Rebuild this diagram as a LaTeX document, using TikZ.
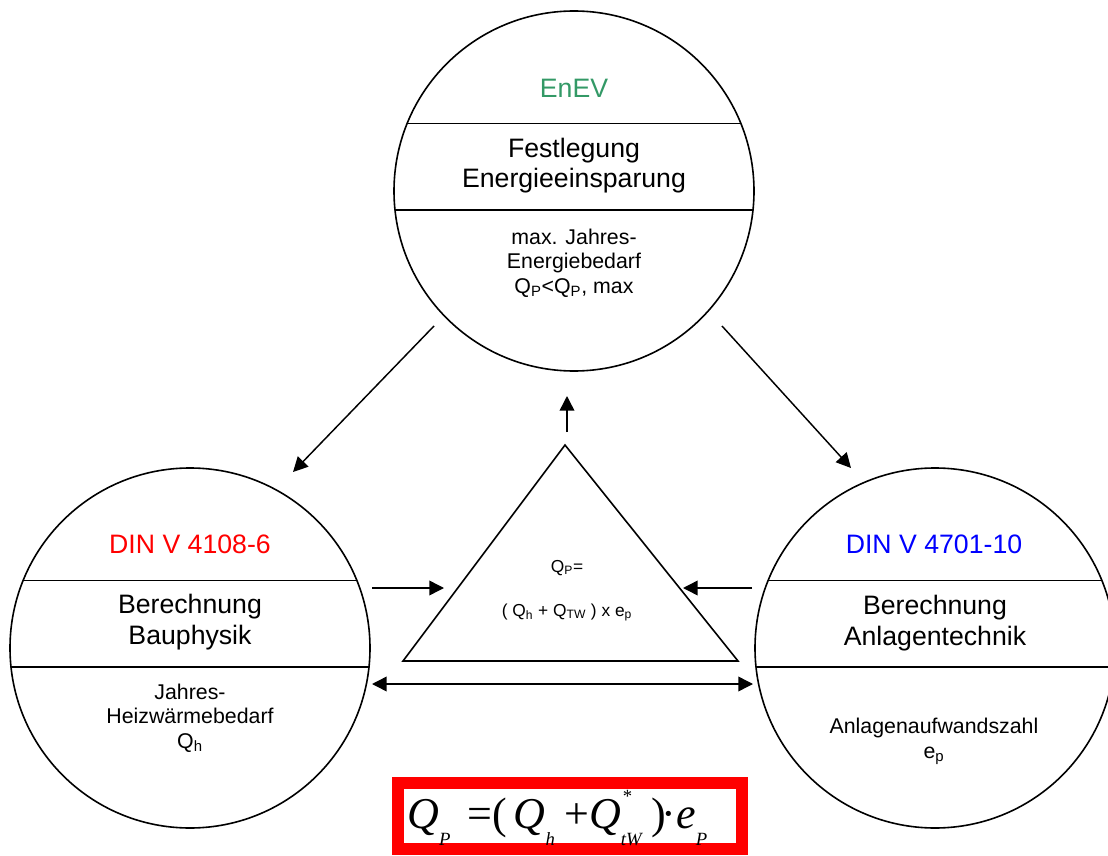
\documentclass[tikz,border=0pt]{standalone}
\usepackage{fontspec}
\setmainfont{Liberation Sans}
\newfontfamily\tnr{Liberation Serif}
\usetikzlibrary{arrows.meta}
\definecolor{enevgruen}{RGB}{51,153,102}
\tikzset{
  kreis/.style={draw, circle, line width=1.2pt, minimum size=270pt, inner sep=0pt, outer sep=0pt},
  linie/.style={line width=1.2pt},
  pfeil/.style={-{Triangle[length=11pt,width=11pt]}, line width=1.1pt},
  doppelpfeil/.style={{Triangle[length=11pt,width=11pt]}-{Triangle[length=11pt,width=11pt]}, line width=1.1pt},
  titel/.style={font=\fontsize{20}{23}\selectfont, anchor=base},
  gross/.style={font=\fontsize{20}{23}\selectfont, align=center, anchor=base},
  klein/.style={font=\fontsize{16}{18.3}\selectfont, align=center, anchor=base},
  dreitext/.style={font=\fontsize{13}{15}\selectfont, anchor=base},
}
\newcommand{\tsub}[1]{\textsubscript{#1}}
\newcommand{\fsub}[1]{\raisebox{-12.75pt}{\fontsize{14}{14}\selectfont\itshape #1}}
\newcommand{\fstern}{\rlap{\hspace{1.5pt}\raisebox{19pt}{\fontsize{14}{14}\selectfont *}}}
\begin{document}
\begin{tikzpicture}[x=0.75pt,y=0.75pt,yscale=-1,xscale=1]
\useasboundingbox (0,0) rectangle (1108,856);

% Kreise
\node[kreis] (enev) at (574,191) {};
\node[kreis] (bau) at (190,648) {};
\node[kreis] (anl) at (935,648) {};

% Trennlinien
\draw[linie] (enev.158) -- (enev.22);
\draw[linie] (enev.186.5) -- (enev.-6.5);
\draw[linie] (bau.158) -- (bau.22);
\draw[linie] (bau.186.5) -- (bau.-6.5);
\draw[linie] (anl.158) -- (anl.22);
\draw[linie] (anl.186.5) -- (anl.-6.5);

% Dreieck
\coordinate (spitze) at (565,445);
\coordinate (links) at (403,661);
\coordinate (rechts) at (738,661);
\draw[linie] (spitze) -- (rechts) -- (links) -- cycle;

% Texte EnEV (base = letzte Zeile)
\node[titel, text=enevgruen] (enevtitel) at (574,98) {EnEV};
\node[gross] (enevmitte) at (574,188) {Festlegung\\Energieeinsparung};
\node[klein] (enevunten) at (574,293) {max. Jahres-\\Energiebedarf\\Q\tsub{P}<Q\tsub{P}, max};

% Texte Bauphysik
\node[titel, text=red] (bautitel) at (190,553) {DIN V 4108-6};
\node[gross] (baumitte) at (190,644) {Berechnung\\Bauphysik};
\node[klein] (bauunten) at (190,748) {Jahres-\\Heizwärmebedarf\\Q\tsub{h}};

% Texte Anlagentechnik
\node[titel, text=blue] (anltitel) at (934,553) {DIN V 4701-10};
\node[gross] (anlmitte) at (935,645) {Berechnung\\Anlagentechnik};
\node[klein] (anlunten) at (934,758) {Anlagenaufwandszahl\\e\tsub{p}};

% Texte Dreieck
\node[dreitext] (qp) at (567,572) {Q\tsub{P}=};
\node[dreitext] (qsumme) at (567,616) {( Q\tsub{h} + Q\tsub{TW} ) x e\tsub{p}};

% Pfeile
\coordinate (a1) at (434,326);
\coordinate (a2) at (293,472);
\coordinate (b1) at (722,326);
\coordinate (b2) at (851,468);
\coordinate (c1) at (567,432);
\coordinate (c2) at (567,396);
\coordinate (d1) at (372,588);
\coordinate (d2) at (444,588);
\coordinate (e1) at (752,588);
\coordinate (e2) at (683,588);
\coordinate (f1) at (372,684);
\coordinate (f2) at (753,684);
\draw[pfeil] (a1) -- (a2);
\draw[pfeil] (b1) -- (b2);
\draw[pfeil] (c1) -- (c2);
\draw[pfeil] (d1) -- (d2);
\draw[pfeil] (e1) -- (e2);
\draw[doppelpfeil] (f1) -- (f2);

% Formel
\draw[red, line width=9.5pt] (398,783) rectangle (742,849);
\node[anchor=base west, inner sep=0pt] (formel) at (407,828) {\tnr\fontsize{33}{33}\selectfont\textit{Q}\fsub{P}\hspace{13pt}=(\hspace{5pt}\textit{Q}\fsub{h}\hspace{7pt}+\textit{Q}\fstern\fsub{tW}\hspace{7pt})\hspace{-3pt}·\textit{e}\fsub{P}};

\end{tikzpicture}
\end{document}
